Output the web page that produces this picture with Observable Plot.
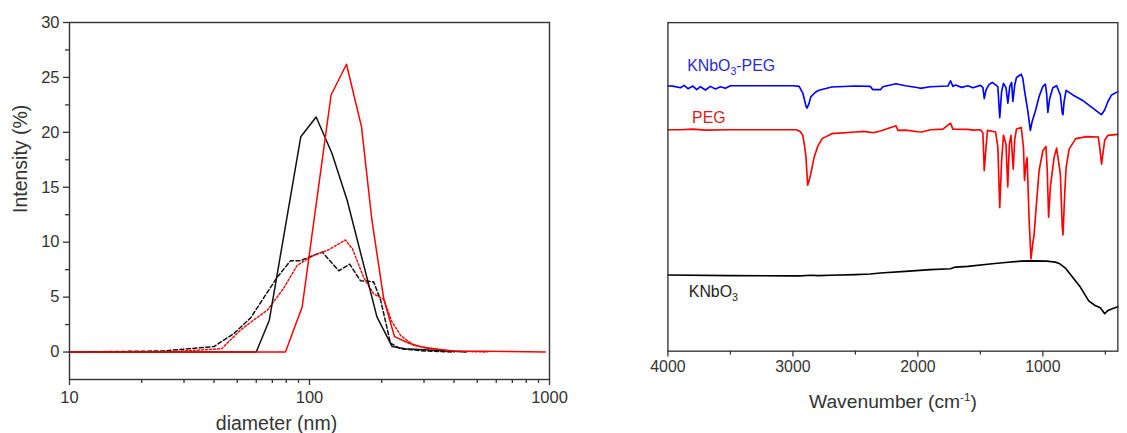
<!DOCTYPE html>
<html>
<head>
<meta charset="utf-8">
<script src="https://cdn.jsdelivr.net/npm/d3@7"></script>
<script src="https://cdn.jsdelivr.net/npm/@observablehq/plot@0.6"></script>
<style>
  html, body { margin: 0; padding: 0; background: #fff; }
  body { width: 1127px; height: 433px; overflow: hidden; position: relative; font-family: "Liberation Sans", Arial, sans-serif; }
  #left, #right { position: absolute; top: 0; }
  #left { left: 0; }
  #right { left: 600px; }
</style>
</head>
<body>
<div id="left"></div>
<div id="right"></div>
<script>
// ---------- Left panel: DLS size distribution ----------
const dlsXTicks = [10, 100, 1000];
const dlsXMinor = [20, 30, 40, 50, 60, 70, 80, 90, 200, 300, 400, 500, 600, 700, 800, 900];
const dlsYTicks = [0, 5, 10, 15, 20, 25, 30];
const dlsYMinor = [2.5, 7.5, 12.5, 17.5, 22.5, 27.5];

const blackSolidD = [10, 60, 68, 92, 106.6, 124, 143.6, 191, 221, 250, 300, 450];
const blackSolidI = [0, 0, 2.9, 19.6, 21.4, 18.1, 13.8, 3.2, 0.5, 0.3, 0.2, 0];

const redSolidD = [10, 79.4, 93.2, 123, 142.6, 164.7, 182, 204, 226, 260, 300, 400, 960];
const redSolidI = [0, 0, 4.1, 23.4, 26.2, 20.5, 12, 4.8, 1.4, 0.8, 0.4, 0.1, 0];

const blackDashD = [10, 24.7, 40, 48.5, 56.8, 73.3, 83.3, 91.7, 96, 113, 132.5, 147, 163, 185, 198, 217.6, 239, 300, 400];
const blackDashI = [0, 0.1, 0.5, 1.7, 3.1, 6.8, 8.3, 8.3, 8.5, 9.1, 7.4, 8.0, 6.5, 6.4, 4.7, 0.8, 0.3, 0.1, 0];

const redDotD = [10, 25, 43, 51.6, 58.4, 66.7, 78, 88.9, 104, 120, 141, 151, 168, 185, 204, 220, 240, 272, 375, 550];
const redDotI = [0, 0, 0.3, 2.0, 2.9, 3.8, 5.8, 7.9, 8.8, 9.3, 10.2, 9.4, 6.8, 5.3, 4.8, 2.8, 1.5, 0.6, 0.1, 0];

// ---------- Right panel: FTIR spectra ----------
const irXTicks = [4000, 3000, 2000, 1000];
const irXMinor = [3500, 2500, 1500, 500];

const blueW = [4000, 3950, 3900, 3870, 3840, 3800, 3770, 3740, 3700, 3660, 3620, 3580, 3540, 3500, 3000, 2950, 2920, 2895, 2887, 2870, 2857, 2820, 2792, 2689, 2500, 2381, 2360, 2300, 2280, 2175, 2100, 1995, 1982, 1900, 1760, 1739, 1720, 1700, 1650, 1600, 1560, 1500, 1480, 1469, 1455, 1430, 1404, 1360, 1345, 1330, 1315, 1295, 1280, 1265, 1250, 1240, 1225, 1211, 1173, 1160, 1147, 1120, 1100, 1085, 1057, 1030, 1000, 980, 970, 960, 945, 920, 890, 860, 845, 839, 830, 814, 760, 685, 600, 540, 530, 505, 479, 450, 400];
const blueT = [80.8, 80.6, 80.2, 80.9, 79.9, 80.7, 79.6, 80.5, 79.5, 80.6, 79.8, 80.5, 80.0, 80.8, 80.8, 80.6, 78.5, 74.5, 74.0, 75.5, 77.4, 78.8, 79.4, 80.4, 80.7, 80.6, 79.6, 79.6, 80.5, 81.4, 80.8, 80.2, 80.0, 80.5, 80.7, 82.3, 80.6, 81.0, 80.3, 80.8, 80.2, 80.9, 80.3, 76.9, 79.5, 81.2, 81.8, 80.5, 71.1, 79.0, 81.5, 80.2, 75.5, 80.5, 81.8, 76.0, 81.0, 83.3, 84.3, 83.0, 79.4, 73.0, 67.2, 70.0, 73.5, 77.5, 80.6, 81.3, 78.5, 72.7, 77.0, 80.2, 80.8, 78.0, 72.5, 72.0, 76.0, 79.4, 78.0, 76.4, 74.0, 72.2, 72.0, 73.5, 76.0, 78.0, 79.0];

const redW = [4000, 3900, 3800, 3700, 3500, 3000, 2972, 2940, 2921, 2905, 2895, 2882, 2870, 2857, 2831, 2800, 2766, 2689, 2500, 2432, 2355, 2300, 2175, 2160, 2100, 2000, 1970, 1900, 1800, 1739, 1720, 1600, 1558, 1500, 1480, 1469, 1455, 1443, 1378, 1360, 1345, 1330, 1315, 1295, 1281, 1268, 1255, 1245, 1237, 1225, 1211, 1173, 1155, 1147, 1135, 1126, 1110, 1095, 1080, 1070, 1057, 1030, 1000, 975, 965, 954, 940, 910, 890, 860, 845, 839, 825, 814, 790, 737, 650, 557, 545, 530, 520, 505, 479, 400];
const redT = [67.4, 67.4, 67.6, 67.3, 67.4, 67.4, 67.4, 66.8, 65.7, 62.0, 58.9, 50.5, 52.0, 54.0, 58.9, 62.5, 64.7, 66.2, 66.7, 66.9, 66.5, 67.0, 68.6, 67.2, 67.3, 66.8, 66.7, 67.4, 67.6, 69.4, 67.6, 67.5, 67.3, 67.4, 66.5, 54.9, 62.0, 67.2, 66.7, 62.0, 43.7, 58.0, 65.7, 63.0, 50.0, 63.0, 65.7, 60.0, 55.4, 64.5, 67.6, 68.1, 62.0, 52.0, 57.0, 58.9, 40.0, 28.1, 33.0, 35.4, 42.2, 55.0, 61.0, 62.3, 55.0, 40.8, 50.0, 59.0, 61.8, 54.0, 38.0, 35.4, 48.0, 55.9, 61.5, 64.7, 65.3, 65.2, 62.0, 56.9, 60.0, 64.2, 65.7, 66.0];

const blackW = [4000, 3500, 3000, 2946, 2850, 2800, 2700, 2500, 2381, 2300, 2100, 1900, 1739, 1700, 1600, 1404, 1300, 1173, 1100, 968, 900, 864, 820, 787, 700, 633, 582, 540, 505, 479, 440, 400];
const blackT = [23.2, 23.0, 22.9, 22.9, 23.1, 23.0, 23.1, 23.3, 23.5, 23.8, 24.3, 24.8, 25.1, 25.6, 25.8, 26.6, 27.0, 27.4, 27.5, 27.4, 27.1, 26.6, 25.3, 23.7, 19.5, 15.3, 13.9, 13.2, 11.4, 12.4, 13.0, 13.5];

const zip = (xs, ys) => xs.map((x, i) => ({x, y: ys[i]}));

const FONT = '"Liberation Sans", Arial, sans-serif';
const AX = "#333";
const TICKFONT = 16.5;

function richify(svg, plain, parts, small) {
  d3.select(svg).selectAll("text").filter(function () { return this.textContent === plain; }).each(function () {
    const t = d3.select(this);
    t.text(null);
    let shift = 0;
    for (const [s, k] of parts) {
      const target = k === "sub" ? 4 : k === "sup" ? -7 : 0;
      const sp = t.append("tspan").attr("dy", target - shift).text(s);
      if (k !== "n") sp.attr("font-size", small);
      shift = target;
    }
  });
}

const left = Plot.plot({
  width: 560, height: 433,
  marginLeft: 69, marginRight: 11, marginTop: 22, marginBottom: 54,
  x: {type: "log", domain: [10, 1000], axis: null},
  y: {domain: [-2.5, 30], axis: null},
  style: {fontFamily: FONT, fontSize: "16.5px", color: AX, background: "white", overflow: "visible"},
  marks: [
    Plot.line(zip(blackDashD, blackDashI), {x: "x", y: "y", stroke: "#111", strokeWidth: 1.5, strokeDasharray: "4,2.5"}),
    Plot.line(zip(redDotD, redDotI), {x: "x", y: "y", stroke: "#ee1111", strokeWidth: 1.5, strokeDasharray: "2,2"}),
    Plot.line(zip(blackSolidD, blackSolidI), {x: "x", y: "y", stroke: "#111", strokeWidth: 1.5}),
    Plot.line(zip(redSolidD, redSolidI), {x: "x", y: "y", stroke: "#ff0000", strokeWidth: 1.5}),
    Plot.frame({stroke: AX, strokeWidth: 1.4}),
    Plot.axisX(dlsXTicks, {tickSize: 6, tickPadding: 6, tickFormat: d => String(d), label: null, stroke: AX, strokeWidth: 1.3, fill: AX, fontSize: TICKFONT}),
    Plot.axisX(dlsXMinor, {tickSize: 4, tickFormat: () => "", label: null, stroke: AX, strokeWidth: 1.3}),
    Plot.axisY(dlsYTicks, {tickSize: 6, tickPadding: 4, tickFormat: d => String(d), label: null, stroke: AX, strokeWidth: 1.3, fill: AX, fontSize: TICKFONT}),
    Plot.axisY(dlsYMinor, {tickSize: 4, tickFormat: () => "", label: null, stroke: AX, strokeWidth: 1.3}),
    Plot.text(["diameter (nm)"], {frameAnchor: "bottom", dx: -33, dy: 50, lineAnchor: "bottom", fontSize: 19.5, fill: AX}),
    Plot.text(["Intensity (%)"], {frameAnchor: "left", rotate: -90, dx: -48.5, dy: 12, fontSize: 19.5, fill: AX})
  ]
});
document.getElementById("left").append(left);

const right = Plot.plot({
  width: 547, height: 433,
  marginLeft: 70, marginRight: 10, marginTop: 23, marginBottom: 69,
  x: {domain: [4000, 400], axis: null},
  y: {domain: [0, 100], axis: null},
  style: {fontFamily: FONT, fontSize: "16.5px", color: AX, background: "white", overflow: "visible"},
  marks: [
    Plot.line(zip(blackW, blackT), {x: "x", y: "y", stroke: "#000", strokeWidth: 1.7}),
    Plot.line(zip(redW, redT), {x: "x", y: "y", stroke: "#ff0000", strokeWidth: 1.7}),
    Plot.line(zip(blueW, blueT), {x: "x", y: "y", stroke: "#0000ff", strokeWidth: 1.7}),
    Plot.frame({stroke: AX, strokeWidth: 1.4}),
    Plot.axisX(irXTicks, {tickSize: 6, tickPadding: 4, tickFormat: d => String(d), label: null, stroke: AX, strokeWidth: 1.3, fill: AX, fontSize: TICKFONT}),
    Plot.axisX(irXMinor, {tickSize: 4, tickFormat: () => "", label: null, stroke: AX, strokeWidth: 1.3}),
    Plot.text(["KNbO3-PEG"], {x: 3846, y: 85.3, textAnchor: "start", lineAnchor: "bottom", fill: "#2a2ad0", fontSize: 16.5}),
    Plot.text(["PEG"], {x: 3807, y: 69.6, textAnchor: "start", lineAnchor: "bottom", fill: "#dd1a1a", fontSize: 16.5}),
    Plot.text(["KNbO3"], {x: 3833, y: 16.4, textAnchor: "start", lineAnchor: "bottom", fill: "#222", fontSize: 16.5}),
    Plot.text(["Wavenumber (cm-1)"], {frameAnchor: "bottom", dy: 58.7, lineAnchor: "bottom", fontSize: 20, fill: AX})
  ]
});
document.getElementById("right").append(right);

richify(right, "KNbO3-PEG", [["KNbO", "n"], ["3", "sub"], ["-PEG", "n"]], 11);
richify(right, "KNbO3", [["KNbO", "n"], ["3", "sub"]], 11);
richify(right, "Wavenumber (cm-1)", [["Wavenumber (cm", "n"], ["-1", "sup"], [")", "n"]], 12);
</script>
</body>
</html>
